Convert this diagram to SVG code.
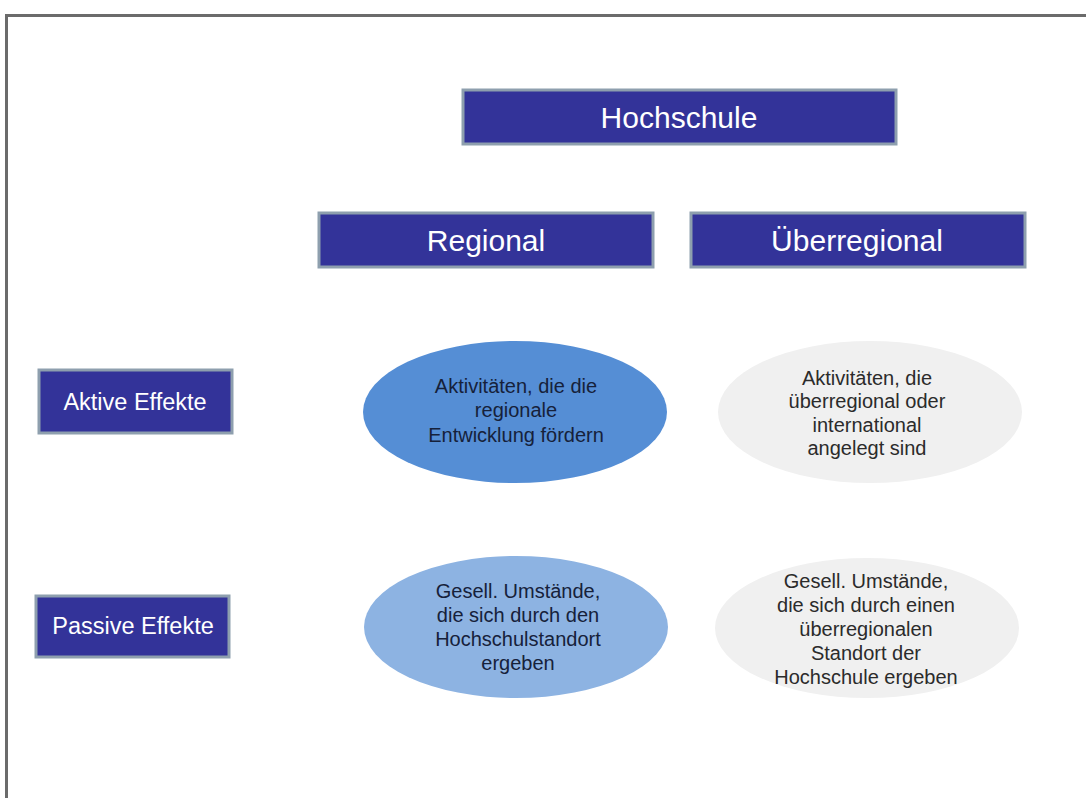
<svg xmlns="http://www.w3.org/2000/svg" width="1086" height="798" viewBox="0 0 1086 798">
<style>
.hdr{fill:#333399;stroke:#8e9fae;stroke-width:3}
.ht{font-family:"Liberation Sans",Arial,sans-serif;fill:#ffffff;text-anchor:middle}
.et{font-family:"Liberation Sans",Arial,sans-serif;font-size:20px;text-anchor:middle}
.dark{fill:#16213a}
.gray{fill:#2b2b2b}
</style>
<rect width="1086" height="798" fill="#ffffff"/>
<path d="M6.5 798 V15.5 H1086" fill="none" stroke="#6b6b6b" stroke-width="3"/>
<g id="hochschule"><rect class="hdr" x="463" y="90" width="433" height="54"/><text class="ht" x="679" y="128" font-size="30">Hochschule</text></g>
<g id="regional"><rect class="hdr" x="319" y="213" width="334" height="54"/><text class="ht" x="486" y="251" font-size="30">Regional</text></g>
<g id="ueberregional"><rect class="hdr" x="691" y="213" width="334" height="54"/><text class="ht" x="857" y="251" font-size="30">Überregional</text></g>
<g id="aktive"><rect class="hdr" x="39" y="370" width="193" height="63"/><text class="ht" x="135" y="410" font-size="23.5">Aktive Effekte</text></g>
<g id="passive"><rect class="hdr" x="36" y="596" width="193" height="61"/><text class="ht" x="133" y="634" font-size="23.5">Passive Effekte</text></g>
<g id="akt-reg"><ellipse cx="515" cy="412" rx="152" ry="71" fill="#558ed5"/>
<text class="et dark" x="516"><tspan x="516" y="393">Aktivitäten, die die</tspan><tspan x="516" y="417">regionale</tspan><tspan x="516" y="442">Entwicklung fördern</tspan></text></g>
<g id="akt-ueb"><ellipse cx="870" cy="412" rx="152" ry="71" fill="#f0f0f0"/>
<text class="et gray" x="867"><tspan x="867" y="385">Aktivitäten, die</tspan><tspan x="867" y="408">überregional oder</tspan><tspan x="867" y="432">international</tspan><tspan x="867" y="455">angelegt sind</tspan></text></g>
<g id="pas-reg"><ellipse cx="516" cy="627" rx="152" ry="71" fill="#8db3e2"/>
<text class="et dark" x="518"><tspan x="518" y="598">Gesell. Umstände,</tspan><tspan x="518" y="622">die sich durch den</tspan><tspan x="518" y="646">Hochschulstandort</tspan><tspan x="518" y="670">ergeben</tspan></text></g>
<g id="pas-ueb"><ellipse cx="867" cy="628" rx="152" ry="70" fill="#f0f0f0"/>
<text class="et gray" x="866"><tspan x="866" y="588">Gesell. Umstände,</tspan><tspan x="866" y="612">die sich durch einen</tspan><tspan x="866" y="636">überregionalen</tspan><tspan x="866" y="660">Standort der</tspan><tspan x="866" y="684">Hochschule ergeben</tspan></text></g>
<g id="connectors"></g>
</svg>
